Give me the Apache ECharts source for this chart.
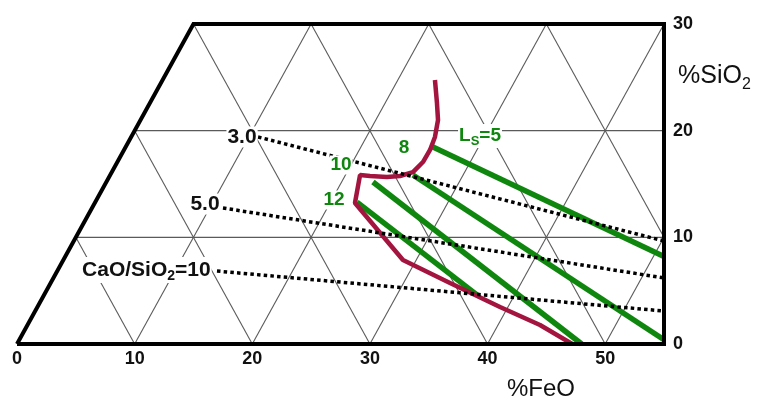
<!DOCTYPE html>
<html>
<head>
<meta charset="utf-8">
<script src="https://cdn.jsdelivr.net/npm/echarts@6/dist/echarts.min.js"></script>
<style>html,body{margin:0;padding:0;background:#fff}#c{width:758px;height:400px}</style>
</head>
<body>
<div id="c"></div>
<script>
// ---- data ----
const xTicks = [0, 10, 20, 30, 40, 50];
const yTicks = [0, 10, 20, 30];
const xMax = 55;
const yMax = 30;

// red boundary curve (%FeO, %SiO2 plot coordinates)
const redBoundary = [
  [35.53, 24.75], [35.70, 22.59], [35.79, 21.0], [35.53, 19.41], [35.11, 18.19],
  [34.51, 17.06], [33.66, 16.12], [32.56, 15.75], [31.45, 15.66], [30.01, 15.75],
  [29.16, 15.84], [28.73, 13.22], [32.81, 7.87], [36.81, 5.72], [41.06, 3.47],
  [44.46, 1.78], [47.2, 0]
];
// green Ls iso-lines
const ls5  = [[35.36, 18.47], [55, 8.2]];
const ls8  = [[33.66, 15.84], [55, 0.4]];
const ls10 = [[30.26, 15.19], [48, 0]];
const ls12 = [[28.9, 13.3], [39.1, 4.6]];
// dotted CaO/SiO2 iso-lines
const basicity3  = [[20.49, 19.41], [55, 9.66]];
const basicity5  = [[17.51, 12.75], [55, 6.19]];
const basicity10 = [[17.0, 6.84], [55, 3.09]];

// annotation texts and their anchor (plot coordinates)
const blackLabels = [
  { text: '3.0', at: [19.13, 19.41] },
  { text: '5.0', at: [15.98, 13.12] },
  { text: '{a|CaO/SiO}{s|2}{a|=10}', at: [11.0, 6.94] }
];
const greenLabels = [
  { text: '8', at: [32.9, 18.37] },
  { text: '10', at: [27.54, 16.78] },
  { text: '12', at: [26.95, 13.5] },
  { text: '{a|L}{s|S}{a|=5}', at: [39.36, 19.5] }
];

// ---- styles ----
const GREEN = '#0f870f';
const RED = '#a3143f';
const FONT = 'Liberation Sans, Arial, sans-serif';

// ternary grid derived from the axis ticks (x shift = y/2)
const gridSegs = [];
yTicks.forEach(y => {
  if (y > 0 && y < yMax) gridSegs.push([[y / 2, y], [xMax, y]]);
});
xTicks.forEach(b => {
  if (b > 0) {
    const yEnd = Math.min(yMax, 2 * (xMax - b));
    gridSegs.push([[b, 0], [b + yEnd / 2, yEnd]]);
  }
});
const backC = xTicks.concat([xTicks[xTicks.length - 1] + 10]);
backC.forEach(c => {
  if (c > 0) {
    const y0 = Math.max(0, 2 * (c - xMax));
    const y1 = Math.min(yMax, c);
    if (y1 > y0) gridSegs.push([[c - y0 / 2, y0], [c - y1 / 2, y1]]);
  }
});
const frame = [[0, 0], [yMax / 2, yMax], [xMax, yMax], [xMax, 0], [0, 0]];

function lineSeries(data, color, width, z, type) {
  return {
    type: 'line', data: data, showSymbol: false, symbol: 'none', clip: false,
    silent: true, z: z, animation: false,
    lineStyle: { color: color, width: width, type: type || 'solid', cap: 'butt' }
  };
}

const richBlack = {
  a: { fontSize: 21, fontWeight: 'bold', color: '#111', fontFamily: FONT, lineHeight: 26 },
  s: { fontSize: 14, fontWeight: 'bold', color: '#111', fontFamily: FONT, lineHeight: 14, verticalAlign: 'bottom' }
};
const richGreen = {
  a: { fontSize: 19, fontWeight: 'bold', color: GREEN, fontFamily: FONT, lineHeight: 24 },
  s: { fontSize: 13, fontWeight: 'bold', color: GREEN, fontFamily: FONT, lineHeight: 13, verticalAlign: 'bottom' }
};

function labelItems(list, color, rich, size) {
  return list.map(l => ({
    value: l.at,
    label: {
      show: true, position: 'inside', formatter: l.text, color: color,
      fontSize: size, fontWeight: 'bold', fontFamily: FONT,
      backgroundColor: '#fff', padding: [0, 1], rich: rich
    }
  }));
}

const series = [
  {
    type: 'lines', coordinateSystem: 'cartesian2d', polyline: true, silent: true, z: 1,
    animation: false,
    lineStyle: { color: '#5a5a5a', width: 1.1, opacity: 1 },
    data: gridSegs.map(s => ({ coords: s }))
  },
  lineSeries(ls5, GREEN, 5.5, 3),
  lineSeries(ls8, GREEN, 5.5, 3),
  lineSeries(ls10, GREEN, 5.5, 3),
  lineSeries(ls12, GREEN, 5.5, 3),
  lineSeries(redBoundary, RED, 4.5, 4),
  lineSeries(basicity3, '#000', 3.5, 5, [3.5, 3.2]),
  lineSeries(basicity5, '#000', 3.5, 5, [3.5, 3.2]),
  lineSeries(basicity10, '#000', 3.5, 5, [3.5, 3.2]),
  {
    type: 'lines', coordinateSystem: 'cartesian2d', polyline: true, silent: true, z: 6,
    animation: false,
    lineStyle: { color: '#000', width: 4, opacity: 1, join: 'miter' },
    data: [{ coords: frame }]
  },
  {
    type: 'scatter', symbolSize: 0, silent: true, z: 7, clip: false, animation: false,
    itemStyle: { opacity: 1 },
    data: labelItems(blackLabels, '#111', richBlack, 21)
  },
  {
    type: 'scatter', symbolSize: 0, silent: true, z: 7, clip: false, animation: false,
    itemStyle: { opacity: 1 },
    data: labelItems(greenLabels, GREEN, richGreen, 19)
  }
];

const chart = echarts.init(document.getElementById('c'), null, { renderer: 'canvas' });
chart.setOption({
  animation: false,
  backgroundColor: '#fff',
  grid: { left: 17, right: 94, top: 24, bottom: 56 },
  xAxis: {
    type: 'value', min: 0, max: xMax, interval: 10,
    axisLine: { show: false }, axisTick: { show: false }, splitLine: { show: false },
    axisLabel: {
      margin: 6, fontSize: 18, fontWeight: 'bold', color: '#111', fontFamily: FONT,
      formatter: v => (xTicks.indexOf(v) >= 0 ? String(v) : '')
    }
  },
  yAxis: {
    type: 'value', position: 'right', min: 0, max: yMax, interval: 10,
    axisLine: { show: false }, axisTick: { show: false }, splitLine: { show: false },
    axisLabel: {
      margin: 9, fontSize: 18, fontWeight: 'bold', color: '#111', fontFamily: FONT,
      formatter: v => (yTicks.indexOf(v) >= 0 ? String(v) : '')
    }
  },
  graphic: [
    {
      type: 'text', left: 507, top: 377, silent: true,
      style: { text: '%FeO', fontSize: 24, fontFamily: FONT, fill: '#111' }
    },
    {
      type: 'text', left: 678, top: 64, silent: true,
      style: {
        text: '{a|%SiO}{s|2}',
        rich: {
          a: { fontSize: 25, fontFamily: FONT, fill: '#111', color: '#111', lineHeight: 32 },
          s: { fontSize: 16, fontFamily: FONT, fill: '#111', color: '#111', lineHeight: 16, verticalAlign: 'bottom' }
        }
      }
    }
  ],
  series: series
});
</script>
</body>
</html>
